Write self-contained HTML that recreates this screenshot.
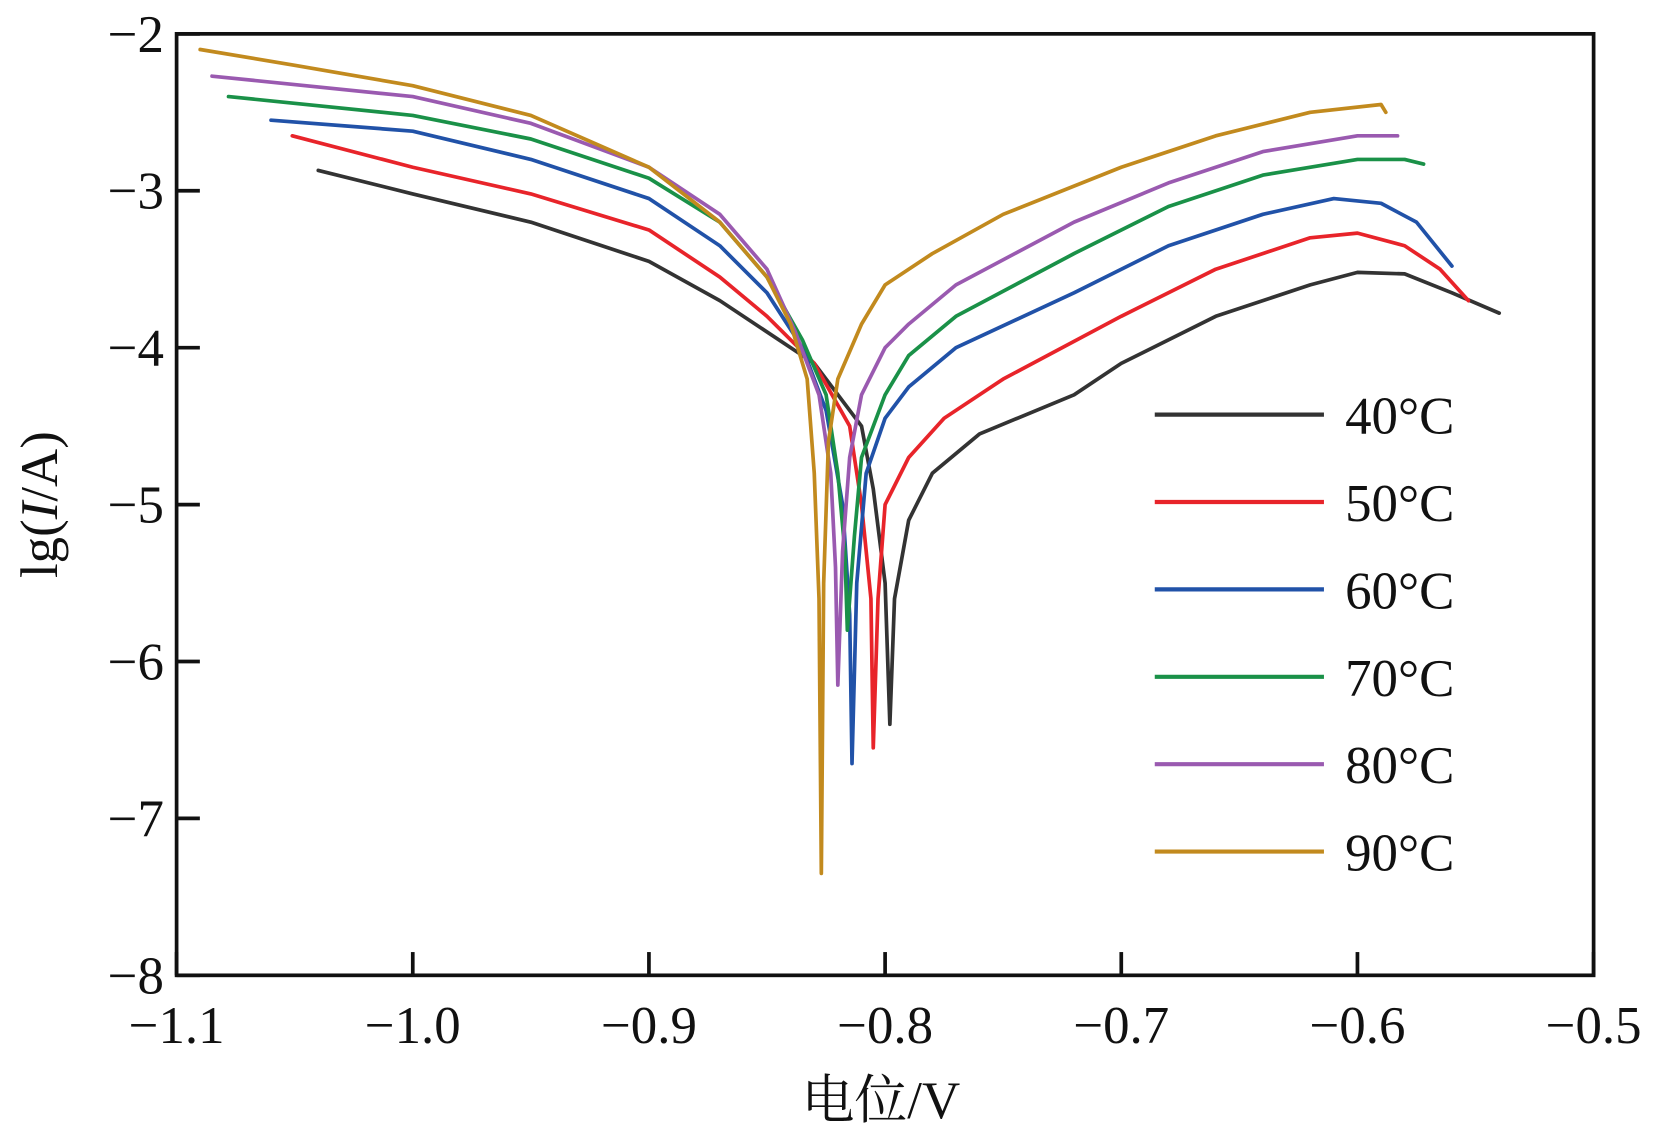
<!DOCTYPE html>
<html><head><meta charset="utf-8"><style>
html,body{margin:0;padding:0;background:#fff;width:1656px;height:1134px;overflow:hidden}
svg{display:block}
text{font-family:"Liberation Serif","Noto Serif CJK SC",serif;fill:#111}
</style></head><body>
<svg id="chart" width="1656" height="1134" viewBox="0 0 1566 1072" preserveAspectRatio="none" xmlns="http://www.w3.org/2000/svg">
<g id="marks"></g>
</svg>
<script>
const xTicks=[-1.1,-1.0,-0.9,-0.8,-0.7,-0.6,-0.5];
const xTickLabels=["−1.1","−1.0","−0.9","−0.8","−0.7","−0.6","−0.5"];
const yTicks=[-2,-3,-4,-5,-6,-7,-8];
const yTickLabels=["−2","−3","−4","−5","−6","−7","−8"];
const seriesNames=["40°C","50°C","60°C","70°C","80°C","90°C"];
const seriesColors=["#333333","#e8242a","#2152a8","#1a9148","#9a5ab0","#c28a1e"];
const s40=[[-1.04,-2.87],[-1.0,-3.02],[-0.95,-3.2],[-0.9,-3.45],[-0.87,-3.7],[-0.85,-3.9],[-0.83,-4.1],[-0.81,-4.5],[-0.805,-4.9],[-0.8,-5.5],[-0.798,-6.4],[-0.796,-5.6],[-0.79,-5.1],[-0.78,-4.8],[-0.76,-4.55],[-0.72,-4.3],[-0.7,-4.1],[-0.66,-3.8],[-0.62,-3.6],[-0.6,-3.52],[-0.58,-3.53],[-0.56,-3.65],[-0.54,-3.78]];
const s50=[[-1.051,-2.65],[-1.0,-2.85],[-0.95,-3.02],[-0.9,-3.25],[-0.87,-3.55],[-0.85,-3.8],[-0.83,-4.1],[-0.815,-4.5],[-0.81,-5.0],[-0.806,-5.6],[-0.805,-6.55],[-0.803,-5.6],[-0.8,-5.0],[-0.79,-4.7],[-0.775,-4.45],[-0.75,-4.2],[-0.7,-3.8],[-0.66,-3.5],[-0.62,-3.3],[-0.6,-3.27],[-0.58,-3.35],[-0.565,-3.5],[-0.553,-3.7]];
const s60=[[-1.06,-2.55],[-1.0,-2.62],[-0.95,-2.8],[-0.9,-3.05],[-0.87,-3.35],[-0.85,-3.65],[-0.835,-4.0],[-0.825,-4.4],[-0.818,-5.0],[-0.815,-5.7],[-0.814,-6.65],[-0.812,-5.5],[-0.808,-4.8],[-0.8,-4.45],[-0.79,-4.25],[-0.77,-4.0],[-0.72,-3.65],[-0.68,-3.35],[-0.64,-3.15],[-0.61,-3.05],[-0.59,-3.08],[-0.575,-3.2],[-0.56,-3.48]];
const s70=[[-1.078,-2.4],[-1.0,-2.52],[-0.95,-2.67],[-0.9,-2.92],[-0.87,-3.2],[-0.85,-3.55],[-0.835,-3.95],[-0.825,-4.3],[-0.82,-4.8],[-0.817,-5.3],[-0.816,-5.8],[-0.813,-5.2],[-0.81,-4.7],[-0.8,-4.3],[-0.79,-4.05],[-0.77,-3.8],[-0.72,-3.4],[-0.68,-3.1],[-0.64,-2.9],[-0.6,-2.8],[-0.58,-2.8],[-0.572,-2.83]];
const s80=[[-1.085,-2.27],[-1.0,-2.4],[-0.95,-2.57],[-0.9,-2.85],[-0.87,-3.15],[-0.85,-3.5],[-0.838,-3.9],[-0.828,-4.3],[-0.823,-4.8],[-0.821,-5.4],[-0.82,-6.15],[-0.818,-5.3],[-0.815,-4.7],[-0.81,-4.3],[-0.8,-4.0],[-0.79,-3.85],[-0.77,-3.6],[-0.72,-3.2],[-0.68,-2.95],[-0.64,-2.75],[-0.6,-2.65],[-0.583,-2.65]];
const s90=[[-1.09,-2.1],[-1.05,-2.2],[-1.0,-2.33],[-0.95,-2.52],[-0.9,-2.85],[-0.87,-3.2],[-0.85,-3.55],[-0.84,-3.85],[-0.833,-4.2],[-0.83,-4.8],[-0.828,-5.6],[-0.827,-7.35],[-0.826,-5.5],[-0.824,-4.6],[-0.82,-4.2],[-0.81,-3.85],[-0.8,-3.6],[-0.78,-3.4],[-0.75,-3.15],[-0.7,-2.85],[-0.66,-2.65],[-0.62,-2.5],[-0.59,-2.45],[-0.588,-2.5]];
const allSeries=[s40,s50,s60,s70,s80,s90];

const L=167,R=1507,T=32,B=922;
const xMin=-1.1,xMax=-0.5,yMin=-8,yMax=-2;
function X(v){return L+(v-xMin)/(xMax-xMin)*(R-L);}
function Y(v){return B-(v-yMin)/(yMax-yMin)*(B-T);}
const NS="http://www.w3.org/2000/svg";
const g=document.getElementById('marks');
function mk(tag,attrs,parent){const e=document.createElementNS(NS,tag);for(const k in attrs)e.setAttribute(k,attrs[k]);(parent||g).appendChild(e);return e;}

allSeries.forEach((s,i)=>{
  const p=mk('polyline',{points:s.map(d=>X(d[0]).toFixed(1)+','+Y(d[1]).toFixed(1)).join(' '),fill:'none',stroke:seriesColors[i],'stroke-width':3.5,'stroke-linejoin':'round','stroke-linecap':'round'});
  
  
});
const fr=mk('rect',{x:L,y:T,width:R-L,height:B-T,fill:'none',stroke:'#111','stroke-width':3.5});


xTicks.forEach((v,i)=>{
  const t=mk('line',{x1:X(v),x2:X(v),y1:B,y2:B-22,stroke:'#111','stroke-width':3.5});
  
  
  const tx=mk('text',{x:X(v),y:B+64,'text-anchor':'middle','font-size':50});
  tx.textContent=xTickLabels[i];
  
  
});
yTicks.forEach((v,i)=>{
  const t=mk('line',{x1:L,x2:L+22,y1:Y(v),y2:Y(v),stroke:'#111','stroke-width':3.5});
  
  
  const tx=mk('text',{x:L-12,y:Y(v)+17,'text-anchor':'end','font-size':50});
  tx.textContent=yTickLabels[i];
  
  
});
const xt=mk('text',{x:833,y:1057,'text-anchor':'middle','font-size':50});
xt.textContent='电位/V';


const yt=mk('text',{x:0,y:0,'text-anchor':'middle','font-size':50,transform:'translate(54,477) rotate(-90)'});
yt.innerHTML='lg(<tspan font-style="italic">I</tspan>/A)';


seriesNames.forEach((n,i)=>{
  const y=392+i*82.6;
  const ln=mk('line',{x1:1092,x2:1252,y1:y,y2:y,stroke:seriesColors[i],'stroke-width':4});
  
  
  const tx=mk('text',{x:1272,y:y+18,'font-size':50});
  tx.textContent=n;
  
  
});
</script>
</body></html>
